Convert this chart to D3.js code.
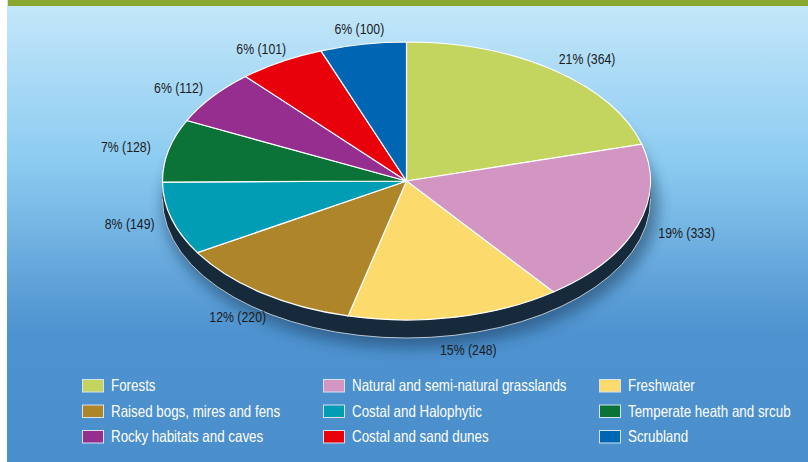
<!DOCTYPE html>
<html>
<head>
<meta charset="utf-8">
<script src="https://cdn.jsdelivr.net/npm/d3@7"></script>
<style>
  html, body { margin: 0; padding: 0; background: #fff; }
  svg { display: block; }
  text { font-family: "Liberation Sans", Arial, sans-serif; }
</style>
</head>
<body>
<div id="chart"></div>
<script>
const categories = [
  "Forests", "Natural and semi-natural grasslands", "Freshwater",
  "Raised bogs, mires and fens", "Costal and Halophytic", "Temperate heath and srcub",
  "Rocky habitats and caves", "Costal and sand dunes", "Scrubland"
];
const counts = [364, 333, 248, 220, 149, 128, 112, 101, 100];
const percents = [21, 19, 15, 12, 8, 7, 6, 6, 6];
const colors = ["#c3d55e", "#d396c3", "#fdda6c", "#ae8629", "#019db4", "#0c7338", "#952e8f", "#e8000a", "#0066b3"];

const W = 808, H = 462;
const cx = 406.5, cy = 181, rx = 244, ry = 139, depth = 18;
const narrow = 0.82; // condensed look of the original typeface

const svg = d3.select("#chart").append("svg")
  .attr("width", W).attr("height", H);

const defs = svg.append("defs");
const bg = defs.append("linearGradient").attr("id", "bg")
  .attr("x1", 0).attr("y1", 0).attr("x2", 0).attr("y2", 1);
bg.append("stop").attr("offset", "0%").attr("stop-color", "#c5e8fa");
bg.append("stop").attr("offset", "35%").attr("stop-color", "#8ccbf1");
bg.append("stop").attr("offset", "72%").attr("stop-color", "#4e92cf");
bg.append("stop").attr("offset", "100%").attr("stop-color", "#4b8ecc");

const blur = defs.append("filter").attr("id", "shadow")
  .attr("x", "-20%").attr("y", "-20%").attr("width", "140%").attr("height", "140%");
blur.append("feGaussianBlur").attr("stdDeviation", 7);

// background and frame
svg.append("rect").attr("x", 7).attr("y", 0).attr("width", W - 7).attr("height", H)
  .attr("fill", "url(#bg)");
svg.append("rect").attr("x", 8).attr("y", 0).attr("width", W - 8).attr("height", 6)
  .attr("fill", "#8ba82e");

// pie geometry
const slices = d3.pie().sort(null).value(d => d)(counts);
const k = ry / rx;

// soft shadow under the pie
svg.append("ellipse")
  .attr("cx", cx + 4).attr("cy", cy + depth + 6)
  .attr("rx", rx + 4).attr("ry", ry + 4)
  .attr("fill", "#0c2a4a").attr("opacity", 0.45)
  .attr("filter", "url(#shadow)");

// side wall
const side = svg.append("g");
side.append("ellipse")
  .attr("cx", cx).attr("cy", cy + depth).attr("rx", rx).attr("ry", ry)
  .attr("fill", "#172a3b").attr("stroke", "#b9c6d2").attr("stroke-width", 1);
side.append("rect")
  .attr("x", cx - rx).attr("y", cy).attr("width", 2 * rx).attr("height", depth)
  .attr("fill", "#172a3b");

// top face
const arc = d3.arc().innerRadius(0).outerRadius(rx);
const face = svg.append("g")
  .attr("transform", `translate(${cx},${cy}) scale(1,${k})`);
face.selectAll("path")
  .data(slices)
  .join("path")
  .attr("d", arc)
  .attr("fill", (d, i) => colors[i])
  .attr("stroke", "#ffffff")
  .attr("stroke-width", 1.2)
  .attr("vector-effect", "non-scaling-stroke");

// value labels
svg.append("g").selectAll("g")
  .data(slices)
  .join("g")
  .each(function (d, i) {
    const a = (d.startAngle + d.endAngle) / 2;
    const s = Math.sin(a), c = Math.cos(a);
    const x = cx + rx * 1.2 * s + (s < 0 ? 5 : 3);
    let y = cy - ry * 1.11 * c;
    if (c < 0) y += depth * c * c;
    d3.select(this)
      .attr("transform", `translate(${x},${y}) scale(${narrow},1)`)
      .append("text")
      .attr("dy", "0.35em")
      .attr("text-anchor", "middle")
      .attr("font-size", 15)
      .attr("fill", "#1c1c1c")
      .text(`${percents[i]}% (${counts[i]})`);
  });

// legend
const colX = [82, 323, 599];
const rowY = [379, 404.5, 430];
const legend = svg.append("g");
categories.forEach((cat, i) => {
  const g = legend.append("g")
    .attr("transform", `translate(${colX[i % 3]},${rowY[Math.floor(i / 3)]})`);
  g.append("rect")
    .attr("x", 0.5).attr("y", 0.5)
    .attr("width", 21).attr("height", 12.5)
    .attr("fill", colors[i])
    .attr("stroke", "#d5e3f1").attr("stroke-width", 1);
  g.append("g")
    .attr("transform", `translate(29,12) scale(${narrow},1)`)
    .append("text")
    .attr("font-size", 16.3)
    .attr("fill", "#ffffff")
    .text(cat);
});
</script>
</body>
</html>
